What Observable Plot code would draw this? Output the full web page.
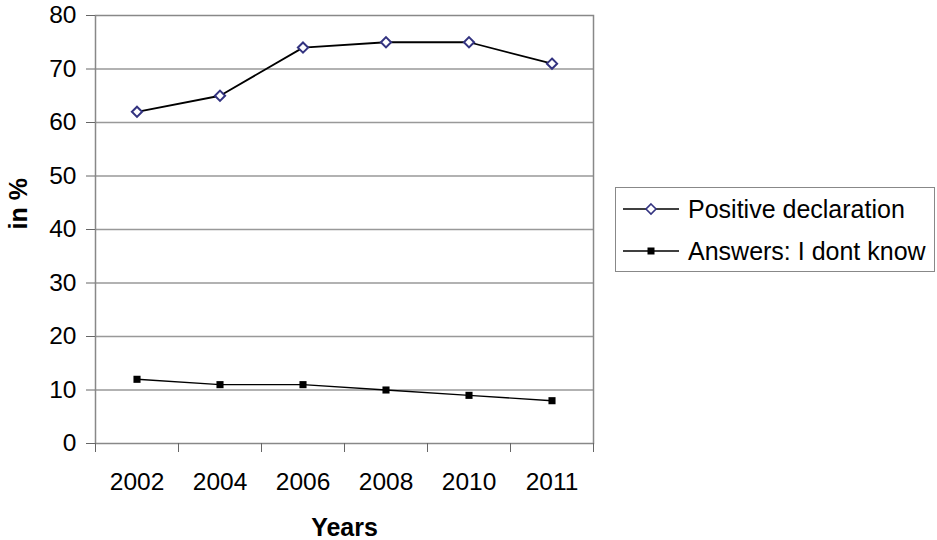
<!DOCTYPE html>
<html><head><meta charset="utf-8">
<script src="https://cdn.jsdelivr.net/npm/d3@7"></script>
<script src="https://cdn.jsdelivr.net/npm/@observablehq/plot@0.6"></script>
<style>
body{margin:0;background:#fff;font-family:"Liberation Sans",Arial,sans-serif}
#wrap{position:relative;width:937px;height:540px}
#legend{position:absolute;left:615px;top:187px;width:320px;height:85px;border:1px solid #888;box-sizing:border-box;font-size:25px;color:#000;background:#fff}
.item{position:absolute;left:7px;height:30px;display:flex;align-items:center;white-space:nowrap}
.item svg{margin-right:9px}
</style></head>
<body><div id="wrap"></div>
<script>
const years = ["2002","2004","2006","2008","2010","2011"];
const positive = [62,65,74,75,75,71];
const dontKnow = [12,11,11,10,9,8];
const seriesNames = ["Positive declaration","Answers: I dont know"];
const yTicks = [0,10,20,30,40,50,60,70,80];

const posData = years.map((y,i)=>({i:i+0.5, v:positive[i]}));
const dkData = years.map((y,i)=>({i:i+0.5, v:dontKnow[i]}));

const chart = Plot.plot({
  width:937, height:540,
  marginLeft:95, marginRight:344, marginTop:15, marginBottom:97,
  x:{domain:[0,years.length]},
  y:{domain:[0,80]},
  style:{fontFamily:'"Liberation Sans",Arial,sans-serif', fontSize:"24.5px", color:"#000", background:"#fff"},
  marks:[
    Plot.ruleY(yTicks.slice(1,-1), {stroke:"#999", strokeWidth:1.3}),
    Plot.frame({stroke:"#888", strokeWidth:1.5}),
    Plot.axisY({ticks:yTicks, tickSize:9, tickPadding:10, label:null, stroke:"#666", strokeOpacity:1}),
    Plot.axisX({ticks:d3.range(0,years.length+1), tickSize:9, tickFormat:()=>"", label:null, stroke:"#666", strokeOpacity:1}),
    Plot.axisX({ticks:years.map((_,i)=>i+0.5), tickSize:0, tickPadding:29, tickFormat:d=>years[Math.floor(d)], label:null}),
    Plot.text(["in %"], {frameAnchor:"left", rotate:-90, dx:-77, fontWeight:"bold", fontSize:25, lineAnchor:"middle"}),
    Plot.text(["Years"], {frameAnchor:"bottom", dy:84, fontWeight:"bold", fontSize:25, lineAnchor:"middle"}),
    Plot.lineY(posData, {x:"i", y:"v", stroke:"#000", strokeWidth:1.8}),
    Plot.lineY(dkData, {x:"i", y:"v", stroke:"#000", strokeWidth:1.4}),
    Plot.dot(posData, {x:"i", y:"v", symbol:"diamond2", r:4.6, fill:"#fff", stroke:"#333380", strokeWidth:2}),
    Plot.dot(dkData, {x:"i", y:"v", symbol:"square", r:4, fill:"#000", stroke:"none"})
  ]
});
const wrap = document.getElementById("wrap");
wrap.appendChild(chart);

const legend = document.createElement("div");
legend.id = "legend";
legend.innerHTML = `
<div class="item" style="top:6px"><svg width="56" height="14"><line x1="0" y1="7" x2="56" y2="7" stroke="#000" stroke-width="1.5"/><path d="M28,2L33,7L28,12L23,7Z" fill="#fff" stroke="#333380" stroke-width="1.6"/></svg><span>${seriesNames[0]}</span></div>
<div class="item" style="top:48px"><svg width="56" height="14"><line x1="0" y1="7" x2="56" y2="7" stroke="#000" stroke-width="1.5"/><rect x="24.5" y="3.5" width="7" height="7" fill="#000"/></svg><span>${seriesNames[1]}</span></div>`;
wrap.appendChild(legend);
</script>
</body></html>
